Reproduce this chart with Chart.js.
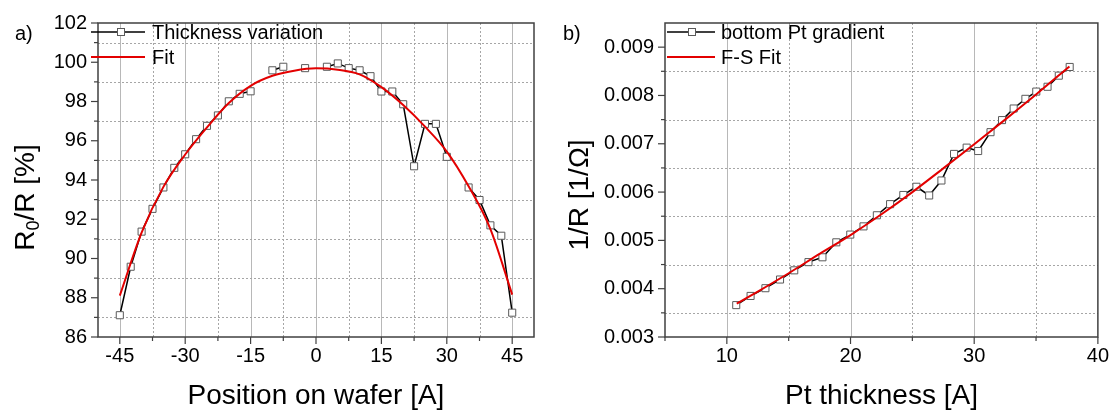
<!DOCTYPE html>
<html>
<head>
<meta charset="utf-8">
<script src="https://cdn.jsdelivr.net/npm/chart.js@4"></script>
<style>
html,body{margin:0;padding:0;background:#fff;width:1116px;height:412px;overflow:hidden}
canvas{position:absolute;top:0}
#chartA{left:0}
#chartB{left:558px}
</style>
</head>
<body>
<canvas id="chartA" width="558" height="412"></canvas>
<canvas id="chartB" width="558" height="412"></canvas>
<script>
// ---------- Panel a) : thickness variation across the wafer ----------
const positionA = [-45, -42.5, -40, -37.5, -35, -32.5, -30, -27.5, -25, -22.5, -20, -17.5, -15, -12.5, -10, -7.5, -5, -2.5, 0, 2.5, 5, 7.5, 10, 12.5, 15, 17.5, 20, 22.5, 25, 27.5, 30, 32.5, 35, 37.5, 40, 42.5, 45];
const ratioA = [87.11, 89.58, 91.37, 92.53, 93.62, 94.62, 95.31, 96.08, 96.76, 97.29, 98.01, 98.39, 98.52, null, 99.59, 99.77, null, 99.70, null, 99.77, 99.94, 99.70, 99.59, 99.29, 98.51, 98.51, 97.86, 94.70, 96.86, 96.86, 95.18, null, 93.62, 92.98, 91.69, 91.16, 87.24];
const fitPositionA = [-45, -40, -35, -30, -25, -20, -15, -10, -5, 0, 5, 10, 15, 20, 25, 30, 35, 40, 45];
const fitRatioA = [88.11, 91.32, 93.65, 95.30, 96.68, 97.92, 98.80, 99.31, 99.57, 99.69, 99.62, 99.38, 98.73, 97.82, 96.72, 95.45, 93.68, 91.50, 88.16];
const xTicksA = [-45, -30, -15, 0, 15, 30, 45];
const xMinorA = [-37.5, -22.5, -7.5, 7.5, 22.5, 37.5];
const yTicksA = [86, 88, 90, 92, 94, 96, 98, 100, 102];
const yMinorA = [87, 89, 91, 93, 95, 97, 99, 101];

// ---------- Panel b) : conductance vs Pt thickness ----------
const thicknessB = [10.76, 11.92, 13.12, 14.30, 15.45, 16.60, 17.73, 18.85, 19.98, 21.05, 22.13, 23.20, 24.27, 25.33, 26.36, 27.35, 28.37, 29.39, 30.32, 31.32, 32.25, 33.19, 34.14, 35.02, 35.93, 36.84, 37.72];
const conductanceB = [0.00366, 0.00385, 0.00401, 0.00419, 0.00438, 0.00455, 0.00465, 0.00496, 0.00512, 0.00529, 0.00552, 0.00575, 0.00594, 0.00611, 0.00593, 0.00624, 0.00679, 0.00692, 0.00685, 0.00724, 0.00749, 0.00773, 0.00793, 0.00808, 0.00818, 0.00841, 0.00859];
const fitThicknessB = [10.8, 12.5, 15, 17.5, 20, 22.5, 25, 27.5, 30, 32.5, 35, 37.7];
const fitConductanceB = [0.00369, 0.00394, 0.00432, 0.00472, 0.00511, 0.00554, 0.00600, 0.00649, 0.00699, 0.00750, 0.00802, 0.00860];
const xTicksB = [10, 20, 30, 40];
const xMinorB = [5, 15, 25, 35];
const yTicksB = [0.003, 0.004, 0.005, 0.006, 0.007, 0.008, 0.009];
const yMinorB = [0.0035, 0.0045, 0.0055, 0.0065, 0.0075, 0.0085];

const FONT = '"Liberation Sans", Arial, Helvetica, sans-serif';
const FRAME = '#404040';
const MARKER_EDGE = '#5a5a5a';
const FIT_RED = '#e30000';

function toPoints(xs, ys) { return xs.map((x, i) => ({ x: x, y: ys[i] })); }

function decor(spec) {
  return {
    id: 'decor',
    beforeDatasetsDraw(chart) {
      const { ctx, chartArea: a } = chart;
      const sx = chart.scales.x, sy = chart.scales.y;
      ctx.save();
      ctx.lineWidth = 1;
      ctx.strokeStyle = '#b8b8b8';
      spec.xMajorGrid.forEach(v => {
        const p = Math.round(sx.getPixelForValue(v)) + 0.5;
        ctx.beginPath(); ctx.moveTo(p, a.top); ctx.lineTo(p, a.bottom); ctx.stroke();
      });
      ctx.setLineDash([2, 2]);
      ctx.strokeStyle = '#a6a6a6';
      spec.xMinor.forEach(v => {
        const p = Math.round(sx.getPixelForValue(v)) + 0.5;
        if (p <= a.left + 1 || p >= a.right - 1) return;
        ctx.beginPath(); ctx.moveTo(p, a.top); ctx.lineTo(p, a.bottom); ctx.stroke();
      });
      spec.yMinor.forEach(v => {
        const p = Math.round(sy.getPixelForValue(v)) + 0.5;
        ctx.beginPath(); ctx.moveTo(a.left, p); ctx.lineTo(a.right, p); ctx.stroke();
      });
      ctx.restore();
    },
    afterDatasetsDraw(chart) {
      const { ctx, chartArea: a } = chart;
      const sx = chart.scales.x, sy = chart.scales.y;
      ctx.save();
      // frame
      ctx.strokeStyle = FRAME;
      ctx.lineWidth = 1.5;
      ctx.strokeRect(a.left, a.top, a.right - a.left, a.bottom - a.top);
      // tick marks
      ctx.lineWidth = 1.2;
      const tick = (x1, y1, x2, y2) => { ctx.beginPath(); ctx.moveTo(x1, y1); ctx.lineTo(x2, y2); ctx.stroke(); };
      spec.xTicks.forEach(v => { const p = sx.getPixelForValue(v); tick(p, a.bottom, p, a.bottom + 7); });
      spec.xMinor.forEach(v => { const p = sx.getPixelForValue(v); tick(p, a.bottom, p, a.bottom + 4); });
      spec.yTicks.forEach(v => { const p = sy.getPixelForValue(v); tick(a.left - 7, p, a.left, p); });
      spec.yMinor.forEach(v => { const p = sy.getPixelForValue(v); tick(a.left - 4, p, a.left, p); });

      // legend
      const L = spec.legend;
      ctx.lineWidth = 1.5;
      ctx.strokeStyle = '#000';
      tick(L.x0, L.y1, L.x1, L.y1);
      ctx.fillStyle = '#fff';
      ctx.strokeStyle = MARKER_EDGE;
      ctx.lineWidth = 1;
      ctx.fillRect(L.mx - 3.5, L.y1 - 3.5, 7, 7);
      ctx.strokeRect(L.mx - 3.5, L.y1 - 3.5, 7, 7);
      ctx.strokeStyle = FIT_RED;
      ctx.lineWidth = 2;
      tick(L.x0, L.y2, L.x1, L.y2);
      ctx.fillStyle = '#000';
      ctx.font = '20px ' + FONT;
      ctx.textAlign = 'left';
      ctx.textBaseline = 'alphabetic';
      ctx.fillText(chart.data.datasets[0].label, L.tx, L.y1 + 6.5);
      ctx.fillText(chart.data.datasets[1].label, L.tx, L.y2 + 6.5);

      // panel label
      ctx.fillText(spec.panel, spec.panelX, 40);

      // x title
      ctx.font = '28px ' + FONT;
      ctx.textAlign = 'center';
      ctx.fillText(spec.xTitle, (a.left + a.right) / 2, 404);

      // y title (rotated, may contain subscript)
      ctx.translate(spec.yTitleX, spec.yTitleY);
      ctx.rotate(-Math.PI / 2);
      ctx.textAlign = 'left';
      const parts = spec.yTitleParts;
      let total = 0;
      parts.forEach(p => { ctx.font = p.size + 'px ' + FONT; total += ctx.measureText(p.t).width; });
      let u = -total / 2;
      parts.forEach(p => {
        ctx.font = p.size + 'px ' + FONT;
        ctx.fillText(p.t, u, p.dy);
        u += ctx.measureText(p.t).width;
      });
      ctx.restore();
    }
  };
}

function makeChart(id, spec) {
  return new Chart(document.getElementById(id), {
    type: 'line',
    data: {
      datasets: [
        {
          label: spec.dataLabel,
          data: toPoints(spec.xs, spec.ys),
          borderColor: '#000',
          borderWidth: 1.5,
          pointStyle: 'rect',
          pointRadius: 5,
          pointBackgroundColor: '#fff',
          pointBorderColor: MARKER_EDGE,
          pointBorderWidth: 1,
          spanGaps: false,
          tension: 0,
          order: 1
        },
        {
          label: spec.fitLabel,
          data: toPoints(spec.fxs, spec.fys),
          borderColor: FIT_RED,
          borderWidth: 2,
          pointRadius: 0,
          cubicInterpolationMode: 'monotone',
          order: 0
        }
      ]
    },
    options: {
      responsive: false,
      animation: false,
      devicePixelRatio: 1,
      events: [],
      layout: { padding: { top: 16, right: spec.padRight, left: 0, bottom: 0 } },
      plugins: { legend: { display: false }, tooltip: { enabled: false } },
      scales: {
        x: {
          type: 'linear',
          min: spec.xMin, max: spec.xMax,
          afterBuildTicks: s => { s.ticks = spec.xTicks.map(v => ({ value: v })); },
          afterFit: s => { s.height = 75; },
          grid: { display: false, drawTicks: false },
          border: { display: false },
          ticks: {
            font: { family: FONT, size: 20 }, color: '#000', padding: 7,
            maxRotation: 0, autoSkip: false,
            callback: v => spec.xFmt(v)
          }
        },
        y: {
          type: 'linear',
          min: spec.yMin, max: spec.yMax,
          afterBuildTicks: s => { s.ticks = spec.yTicks.map(v => ({ value: v })); },
          afterFit: s => { s.width = spec.yWidth; },
          grid: { display: false, drawTicks: false },
          border: { display: false },
          ticks: {
            font: { family: FONT, size: 20 }, color: '#000', padding: 11,
            autoSkip: false,
            callback: v => spec.yFmt(v)
          }
        }
      }
    },
    plugins: [decor(spec)]
  });
}

makeChart('chartA', {
  dataLabel: 'Thickness variation', fitLabel: 'Fit',
  xs: positionA, ys: ratioA, fxs: fitPositionA, fys: fitRatioA,
  xMin: -50, xMax: 50, yMin: 86, yMax: 102,
  xTicks: xTicksA, xMinor: xMinorA, xMajorGrid: xTicksA,
  yTicks: yTicksA, yMinor: yMinorA,
  xFmt: v => String(v), yFmt: v => String(v),
  yWidth: 98, padRight: 24,
  legend: { x0: 91, x1: 145, mx: 121, tx: 152, y1: 32, y2: 57 },
  panel: 'a)', panelX: 15,
  xTitle: 'Position on wafer [A]',
  yTitleX: 33.5, yTitleY: 197.5,
  yTitleParts: [{ t: 'R', size: 28, dy: 0 }, { t: '0', size: 18, dy: 5 }, { t: '/R [%]', size: 28, dy: 0 }]
});

makeChart('chartB', {
  dataLabel: 'bottom Pt gradient', fitLabel: 'F-S Fit',
  xs: thicknessB, ys: conductanceB, fxs: fitThicknessB, fys: fitConductanceB,
  xMin: 5, xMax: 40, yMin: 0.003, yMax: 0.0095,
  xTicks: xTicksB, xMinor: xMinorB, xMajorGrid: [10, 20, 30],
  yTicks: yTicksB, yMinor: yMinorB,
  xFmt: v => String(v), yFmt: v => v.toFixed(3),
  yWidth: 107, padRight: 15,
  legend: { x0: 109, x1: 157, mx: 134, tx: 163, y1: 32, y2: 57 },
  panel: 'b)', panelX: 5,
  xTitle: 'Pt thickness [A]',
  yTitleX: 29.5, yTitleY: 195,
  yTitleParts: [{ t: '1/R [1/\u03A9]', size: 28, dy: 0 }]
});
</script>
</body>
</html>
